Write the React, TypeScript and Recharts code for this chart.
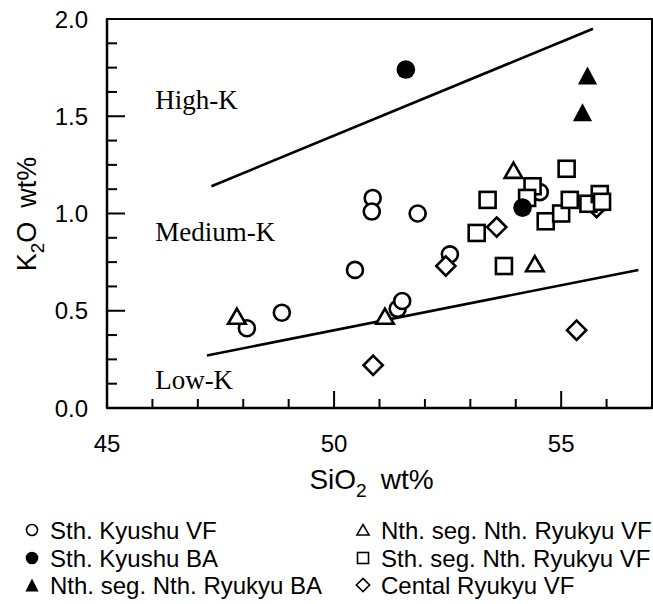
import React from "react";
import {
  ScatterChart,
  Scatter,
  XAxis,
  YAxis,
  ReferenceLine,
  ReferenceArea,
  ReferenceDot,
} from "recharts";

// SiO2 (x) vs K2O (y), wt%
const sthKyushuVF = [
  { x: 48.08, y: 0.41 },
  { x: 48.85, y: 0.49 },
  { x: 50.46, y: 0.71 },
  { x: 50.85, y: 1.08 },
  { x: 50.83, y: 1.01 },
  { x: 51.84, y: 1.0 },
  { x: 51.4, y: 0.51 },
  { x: 51.5, y: 0.55 },
  { x: 52.55, y: 0.79 },
  { x: 54.53, y: 1.11 },
]
const sthKyushuBA = [
  { x: 51.58, y: 1.74 },
  { x: 54.15, y: 1.03 },
]
const nthSegBA = [
  { x: 55.58, y: 1.71 },
  { x: 55.47, y: 1.52 },
]
const nthSegVF = [
  { x: 47.86, y: 0.47 },
  { x: 51.12, y: 0.47 },
  { x: 53.95, y: 1.22 },
  { x: 54.42, y: 0.74 },
]
const sthSegVF = [
  { x: 53.38, y: 1.07 },
  { x: 53.14, y: 0.9 },
  { x: 53.74, y: 0.73 },
  { x: 54.37, y: 1.14 },
  { x: 54.25, y: 1.08 },
  { x: 54.66, y: 0.96 },
  { x: 55.0, y: 1.0 },
  { x: 55.12, y: 1.23 },
  { x: 55.19, y: 1.07 },
  { x: 55.6, y: 1.05 },
  { x: 55.85, y: 1.1 },
  { x: 55.9, y: 1.06 },
]
const centralRyukyuVF = [
  { x: 50.86, y: 0.22 },
  { x: 52.46, y: 0.73 },
  { x: 53.58, y: 0.93 },
  { x: 55.34, y: 0.4 },
  { x: 55.78, y: 1.03 },
]

// boundary lines
const highMediumLine = [
  { x: 47.3, y: 1.14 },
  { x: 55.7, y: 1.95 },
]
const mediumLowLine = [
  { x: 47.2, y: 0.27 },
  { x: 56.7, y: 0.71 },
]

const regionLabels = [
  { x: 46.06, y: 1.537, text: "High-K" },
  { x: 46.06, y: 0.859, text: "Medium-K" },
  { x: 46.06, y: 0.098, text: "Low-K" },
]

const xTicks = [45, 46, 47, 48, 49, 50, 51, 52, 53, 54, 55, 56, 57]
const xLabels = [45, 50, 55]
const yTicks = [0, 0.125, 0.25, 0.375, 0.5, 0.625, 0.75, 0.875, 1, 1.125, 1.25, 1.375, 1.5, 1.625, 1.75, 1.875, 2]
const yLabels = [0, 0.5, 1, 1.5, 2]

const SANS = "'Liberation Sans', Arial, Helvetica, sans-serif"
const SERIF = "'Liberation Serif', 'Times New Roman', serif"

function drawMarker(kind: string, cx: number, cy: number, s: number, sw: number) {
  const h = s / 2
  switch (kind) {
    case "circle":
      return <circle cx={cx} cy={cy} r={h} fill="#fff" stroke="#000" strokeWidth={sw} />
    case "dot":
      return <circle cx={cx} cy={cy} r={h + sw / 2} fill="#000" />
    case "tri":
      return (
        <polygon
          points={`${cx},${cy - h} ${cx + h * 1.1},${cy + h * 0.9} ${cx - h * 1.1},${cy + h * 0.9}`}
          fill="#fff" stroke="#000" strokeWidth={sw} strokeLinejoin="miter"
        />
      )
    case "filltri":
      return (
        <polygon
          points={`${cx},${cy - h - 1} ${cx + h * 1.2},${cy + h + 1} ${cx - h * 1.2},${cy + h + 1}`}
          fill="#000"
        />
      )
    case "square":
      return <rect x={cx - h} y={cy - h} width={s} height={s} fill="#fff" stroke="#000" strokeWidth={sw} />
    case "diamond":
      return (
        <polygon
          points={`${cx},${cy - h * 1.2} ${cx + h * 1.2},${cy} ${cx},${cy + h * 1.2} ${cx - h * 1.2},${cy}`}
          fill="#fff" stroke="#000" strokeWidth={sw}
        />
      )
  }
  return null
}

const shapeFor = (kind: string) => (props: any) => drawMarker(kind, props.cx, props.cy, 16, 2.6)

const XTick = (props: any) => {
  const { x, y, payload } = props
  const major = xLabels.includes(payload.value)
  return (
    <g>
      <line x1={x} x2={x} y1={y} y2={y - (major ? 17 : 9)} stroke="#000" strokeWidth={2} />
      {major && (
        <text x={x} y={y + 44} textAnchor="middle" fontFamily={SANS} fontSize={24} fill="#000">
          {payload.value}
        </text>
      )}
    </g>
  )
}

const YTick = (props: any) => {
  const { x, y, payload } = props
  const major = yLabels.includes(payload.value)
  return (
    <g>
      <line x1={x} x2={x + (major ? 18 : 10)} y1={y} y2={y} stroke="#000" strokeWidth={2} />
      {major && (
        <text x={x - 19} y={y + 8.5} textAnchor="end" fontFamily={SANS} fontSize={24} fill="#000">
          {payload.value.toFixed(1)}
        </text>
      )}
    </g>
  )
}

const XTitle = (props: any) => {
  const vb = props.viewBox
  return (
    <text x={vb.x + vb.width / 2 - 8} y={vb.y + 81} textAnchor="middle" fontFamily={SANS} fontSize={28} fill="#000">
      <tspan>SiO</tspan>
      <tspan fontSize={19} dy={8}>2</tspan>
      <tspan dy={-8} dx={14}>wt%</tspan>
    </text>
  )
}

const YTitle = () => (
  <text
    x={36}
    y={214}
    transform="rotate(-90 36 214)"
    textAnchor="middle"
    fontFamily={SANS}
    fontSize={27}
    fill="#000"
  >
    <tspan>K</tspan>
    <tspan fontSize={19} dy={8}>2</tspan>
    <tspan dy={-8}>O</tspan>
    <tspan dx={14}>wt%</tspan>
  </text>
)

const legendItems = [
  { kind: "circle", name: "Sth. Kyushu VF", col: 0, row: 0 },
  { kind: "dot", name: "Sth. Kyushu BA", col: 0, row: 1 },
  { kind: "filltri", name: "Nth. seg. Nth. Ryukyu BA", col: 0, row: 2 },
  { kind: "tri", name: "Nth. seg. Nth. Ryukyu VF", col: 1, row: 0 },
  { kind: "square", name: "Sth. seg. Nth. Ryukyu VF", col: 1, row: 1 },
  { kind: "diamond", name: "Cental Ryukyu VF", col: 1, row: 2 },
]

function LegendBlock() {
  const colX = [32, 363]
  const rowY = [530, 558, 585]
  return (
    <svg width={653} height={604} style={{ position: "absolute", left: 0, top: 0, pointerEvents: "none" }}>
      {legendItems.map((it) => {
        const cx = colX[it.col]
        const cy = rowY[it.row]
        return (
          <g key={it.name}>
            {drawMarker(it.kind, cx, cy, 11, 1.6)}
            <text x={cx + 18} y={cy + 8.5} fontFamily={SANS} fontSize={24} fill="#000">
              {it.name}
            </text>
          </g>
        )
      })}
    </svg>
  )
}

export default function App() {
  return (
    <div style={{ position: "absolute", left: 0, top: 0, width: 653, height: 604, background: "#fff" }}>
      <ScatterChart width={653} height={604} margin={{ top: 19, right: 1, left: 47, bottom: 166 }}>
        <XAxis
          type="number"
          dataKey="x"
          domain={[45, 57]}
          ticks={xTicks}
          interval={0}
          tickSize={0}
          tickMargin={0}
          tick={XTick}
          height={30}
          axisLine={{ stroke: "#000", strokeWidth: 2.5 }}
          label={{ content: XTitle }}
        />
        <YAxis
          type="number"
          dataKey="y"
          domain={[0, 2]}
          ticks={yTicks}
          interval={0}
          tickSize={0}
          tickMargin={0}
          tick={YTick}
          width={60}
          axisLine={{ stroke: "#000", strokeWidth: 2.5 }}
          label={{ content: YTitle }}
        />
        <ReferenceArea x1={45} x2={57} y1={0} y2={2} fill="none" stroke="#000" strokeWidth={2} fillOpacity={0} />
        <ReferenceLine segment={highMediumLine} stroke="#000" strokeWidth={2.6} />
        <ReferenceLine segment={mediumLowLine} stroke="#000" strokeWidth={2.6} />
        {regionLabels.map((r) => (
          <ReferenceDot
            key={r.text}
            x={r.x}
            y={r.y}
            r={0}
            fill="none"
            stroke="none"
            label={{
              content: (p: any) => (
                <text x={p.viewBox.x} y={p.viewBox.y} fontFamily={SERIF} fontSize={27} fill="#000">
                  {r.text}
                </text>
              ),
            }}
          />
        ))}
        <Scatter name="Sth. Kyushu VF" data={sthKyushuVF} shape={shapeFor("circle")} isAnimationActive={false} />
        <Scatter name="Nth. seg. Nth. Ryukyu VF" data={nthSegVF} shape={shapeFor("tri")} isAnimationActive={false} />
        <Scatter name="Cental Ryukyu VF" data={centralRyukyuVF} shape={shapeFor("diamond")} isAnimationActive={false} />
        <Scatter name="Sth. seg. Nth. Ryukyu VF" data={sthSegVF} shape={shapeFor("square")} isAnimationActive={false} />
        <Scatter name="Sth. Kyushu BA" data={sthKyushuBA} shape={shapeFor("dot")} isAnimationActive={false} />
        <Scatter name="Nth. seg. Nth. Ryukyu BA" data={nthSegBA} shape={shapeFor("filltri")} isAnimationActive={false} />
      </ScatterChart>
      <LegendBlock />
    </div>
  )
}
